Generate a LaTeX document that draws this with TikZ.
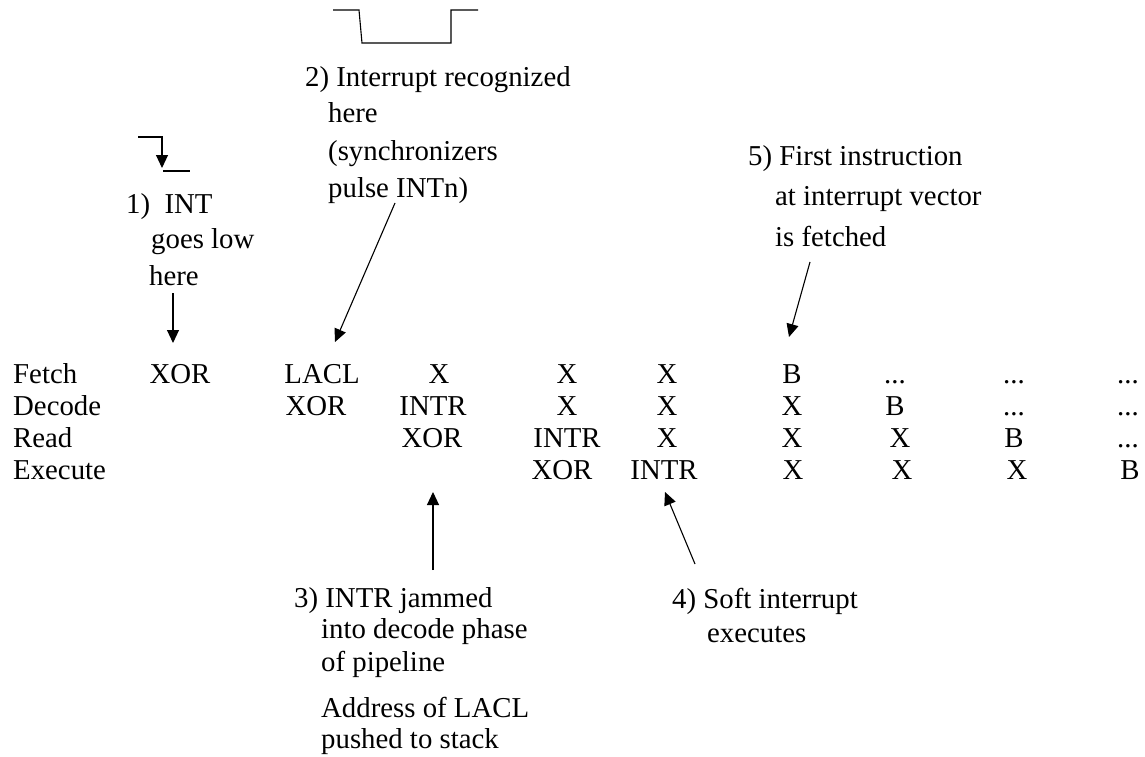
\documentclass[tikz,border=0pt]{standalone}
\usepackage{fontspec}
\setmainfont{Liberation Serif}
\usetikzlibrary{arrows.meta}
\begin{document}
\begin{tikzpicture}[x=1pt,y=-1pt,
  txt/.style={inner sep=0pt, anchor=base west, font=\fontsize{28.8}{32}\selectfont},
  cell/.style={inner sep=0pt, anchor=base, font=\fontsize{28.8}{32}\selectfont},
  wave/.style={line width=1.1pt},
  pointer/.style={line width=1.1pt, -{Triangle[length=13pt,width=12pt]}}]
\useasboundingbox (0,0) rectangle (1145,757);

% row labels
\node[txt] (lf) at (13,383) {Fetch};
\node[txt] (ld) at (13,415) {Decode};
\node[txt] (lr) at (13,447) {Read};
\node[txt] (le) at (13,479) {Execute};

% Fetch row
\node[cell] (f1) at (180,383) {XOR};
\node[cell] (f2) at (322,383) {LACL};
\node[cell] (f3) at (439,383) {X};
\node[cell] (f4) at (567,383) {X};
\node[cell] (f5) at (667,383) {X};
\node[cell] (f6) at (792,383) {B};
\node[cell] (f7) at (895,383) {...};
\node[cell] (f8) at (1014,383) {...};
\node[cell] (f9) at (1128,383) {...};

% Decode row
\node[cell] (d1) at (316,415) {XOR};
\node[cell] (d2) at (433,415) {INTR};
\node[cell] (d3) at (567,415) {X};
\node[cell] (d4) at (667,415) {X};
\node[cell] (d5) at (792,415) {X};
\node[cell] (d6) at (895,415) {B};
\node[cell] (d7) at (1014,415) {...};
\node[cell] (d8) at (1128,415) {...};

% Read row
\node[cell] (r1) at (432,447) {XOR};
\node[cell] (r2) at (567,447) {INTR};
\node[cell] (r3) at (667,447) {X};
\node[cell] (r4) at (792,447) {X};
\node[cell] (r5) at (900,447) {X};
\node[cell] (r6) at (1014,447) {B};
\node[cell] (r7) at (1128,447) {...};

% Execute row
\node[cell] (e1) at (562,479) {XOR};
\node[cell] (e2) at (664,479) {INTR};
\node[cell] (e3) at (793,479) {X};
\node[cell] (e4) at (902,479) {X};
\node[cell] (e5) at (1017,479) {X};
\node[cell] (e6) at (1130,479) {B};

% annotation 1
\node[txt] (a1a) at (126,213) {1)\ \ INT};
\node[txt] (a1b) at (151,248) {goes low};
\node[txt] (a1c) at (149,285) {here};

% annotation 2
\node[txt] (a2a) at (305,87) {2) Interrupt recognized};
\node[txt] (a2b) at (328,123) {here};
\node[txt] (a2c) at (328,160) {(synchronizers};
\node[txt] (a2d) at (328,197) {pulse INTn)};

% annotation 3
\node[txt] (a3a) at (294,607) {3) INTR jammed};
\node[txt] (a3b) at (321,638) {into decode phase};
\node[txt] (a3c) at (321,671) {of pipeline};
\node[txt] (a3d) at (321,717) {Address of LACL};
\node[txt] (a3e) at (321,748) {pushed to stack};

% annotation 4
\node[txt] (a4a) at (672,608) {4) Soft interrupt};
\node[txt] (a4b) at (707,642) {executes};

% annotation 5
\node[txt] (a5a) at (748,165) {5) First instruction};
\node[txt] (a5b) at (775,205) {at interrupt vector};
\node[txt] (a5c) at (775,246) {is fetched};

% pointer arrows
\coordinate (p1s) at (173,293); \coordinate (p1e) at (173,343);
\coordinate (p2s) at (395,203); \coordinate (p2e) at (335,342);
\coordinate (p3s) at (433,570); \coordinate (p3e) at (433,492);
\coordinate (p4s) at (695,564); \coordinate (p4e) at (665,492);
\coordinate (p5s) at (810,262); \coordinate (p5e) at (789,337);
\draw[pointer] (p1s) -- (p1e);
\draw[pointer] (p2s) -- (p2e);
\draw[pointer] (p3s) -- (p3e);
\draw[pointer] (p4s) -- (p4e);
\draw[pointer] (p5s) -- (p5e);

% INT falling edge
\coordinate (i0) at (138,137); \coordinate (i1) at (162,137);
\coordinate (i2) at (162,168); \coordinate (i3) at (163,171);
\coordinate (i4) at (190,171);
\draw[pointer] (i0) -- (i1) -- (i2);
\draw[wave] (i3) -- (i4);

% INTn pulse
\coordinate (s0) at (333,10); \coordinate (s1) at (359,10);
\coordinate (s2) at (362,43); \coordinate (s3) at (451,43);
\coordinate (s4) at (451,10); \coordinate (s5) at (478,10);
\draw[wave] (s0) -- (s1) -- (s2) -- (s3) -- (s4) -- (s5);
\end{tikzpicture}
\end{document}
